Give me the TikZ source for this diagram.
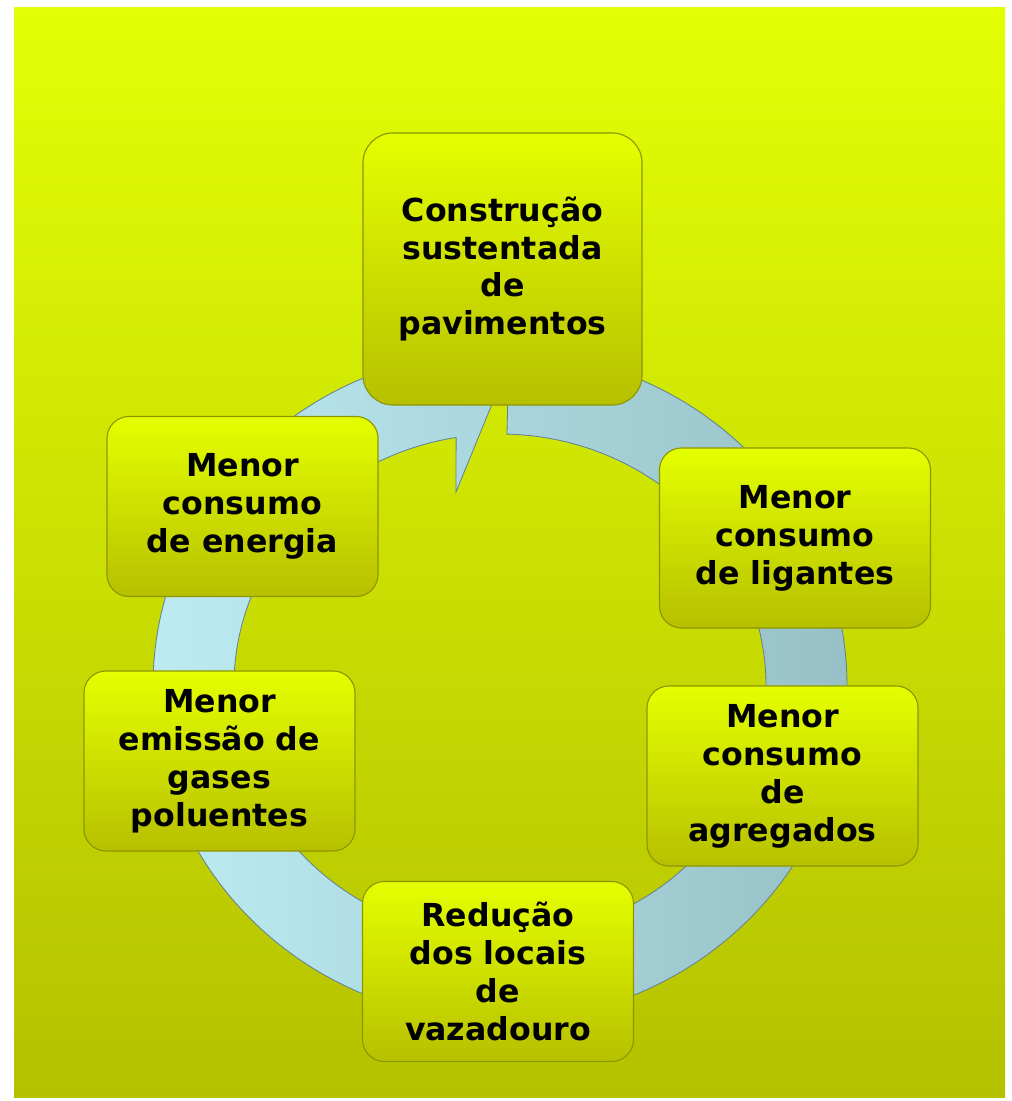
\documentclass[tikz,border=0pt]{standalone}
\usepackage{fontspec}
\setmainfont{DejaVu Sans}
\usetikzlibrary{calc}
\definecolor{bgtop}{RGB}{226,255,5}
\definecolor{bgbot}{RGB}{180,193,0}
\definecolor{boxtop}{RGB}{228,255,0}
\definecolor{boxbot}{RGB}{183,192,0}
\definecolor{boxedge}{RGB}{140,150,0}
\definecolor{ringl}{RGB}{188,236,242}
\definecolor{ringr}{RGB}{150,192,198}
\definecolor{ringedge}{RGB}{100,130,145}

\begin{document}
\begin{tikzpicture}[x=0.025cm,y=0.025cm,
    etapa/.style={rectangle, rounded corners=0.55cm, top color=boxtop,
        bottom color=boxbot, draw=boxedge, line width=0.8pt,
        minimum width=6.775cm, minimum height=4.5cm, align=center,
        font=\fontsize{22.5}{27}\selectfont\bfseries, inner sep=2pt}]

    \useasboundingbox (0,0) rectangle (1012,1101);
    \shade[top color=bgtop, bottom color=bgbot] (14,3) rectangle (1005,1093);

    % circular arrow behind the boxes
    \coordinate (C) at (500,415);
    \coordinate (barbin) at ($(C)+(-44,194)$);
    \coordinate (barbout) at ($(C)+(-44,390)$);
    \coordinate (tip) at ($(C)+(-3,294)$);
    \shadedraw[left color=ringl, right color=ringr, draw=ringedge, line width=0.6pt]
        ($(C)+(88.5:347 and 335)$)
        arc[start angle=88.5, end angle=-262.7, x radius=347, y radius=335]
        -- (barbout) -- (tip) -- (barbin)
        -- ($(C)+(-260.5:266 and 252)$)
        arc[start angle=-260.5, end angle=88.5, x radius=266, y radius=252]
        -- cycle;

    \node[etapa, minimum width=6.975cm, minimum height=6.8cm, rounded corners=0.75cm]
        at (502.5,832) (constr) {Construção\\sustentada\\de\\pavimentos};
    \node[etapa] at (795,563) (ligantes) {Menor\\consumo\\de ligantes};
    \node[etapa] at (782.5,325) (agregados) {Menor\\consumo\\de\\agregados};
    \node[etapa] at (498,129.5) (vazad) {Redução\\dos locais\\de\\vazadouro};
    \node[etapa] at (219.5,340) (gases) {Menor\\emissão de\\gases\\poluentes};
    \node[etapa] at (242.5,594.5) (energia) {Menor\\consumo\\de energia};
\end{tikzpicture}
\end{document}
